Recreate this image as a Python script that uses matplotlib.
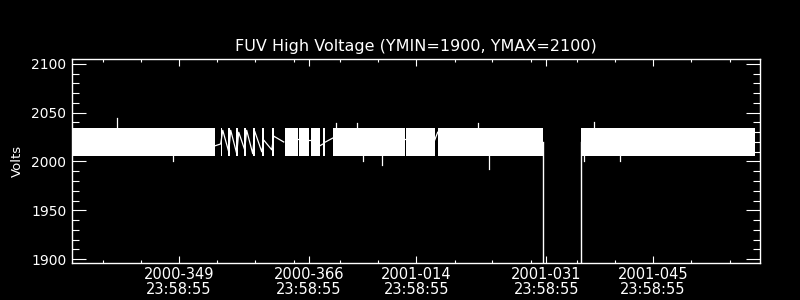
import matplotlib

matplotlib.use("Agg")

import matplotlib.pyplot as plt

# x axis is continuous day of year 2000 (2001-001 -> 367)
title = "FUV High Voltage (YMIN=1900, YMAX=2100)"
major_days = [350.0, 367.0, 381.05, 398.06, 412.0]
major_labels = [
    "2000-349\n23:58:55",
    "2000-366\n23:58:55",
    "2001-014\n23:58:55",
    "2001-031\n23:58:55",
    "2001-045\n23:58:55",
]
minor_days = [340.06, 345.08, 354.97, 359.99, 365.04, 371.02, 376.03,
              386.06, 391.0, 396.1, 402.02, 407.0, 417.02, 422.03]

# dense sampling blocks (start, end) where the signal fills the band
seg_start = [336.05, 355.45, 356.45, 357.50, 358.55, 359.66, 360.84, 362.10,
             363.81, 365.66, 367.23, 368.84, 370.11, 379.66, 383.84, 402.64]
seg_end = [354.67, 355.68, 356.72, 357.76, 358.82, 359.88, 361.06, 362.39,
           365.53, 366.97, 368.40, 369.15, 379.53, 383.45, 397.57, 425.30]
band_low = 2005.5
band_high = 2034.5

# connecting lines across the sparse parts
link_days = [354.67, 355.45, 355.72, 356.50, 356.76, 357.55, 357.81, 358.59,
             358.85, 359.64, 359.90, 360.82, 361.08, 362.13, 362.39, 363.70]
link_volts = [2016, 2018, 2032, 2010, 2032, 2008, 2030, 2012,
              2032, 2008, 2031, 2010, 2022, 2012, 2026, 2020]
gap_days = [[365.53, 365.66], [366.97, 367.23], [368.40, 368.84],
            [369.15, 370.11], [379.53, 379.66], [383.45, 383.84]]
gap_volts = [[2023, 2023], [2022, 2022], [2016, 2018],
             [2020, 2024], [2023, 2023], [2022, 2030]]

# drop-outs to zero volts
drop_days = [397.57, 402.64]
drop_volts = [0, 0]

# isolated spikes outside the band
spike_days = [341.94, 349.18, 370.50, 373.25, 374.03, 376.52, 389.08,
              390.51, 402.94, 404.25, 407.65]
spike_volts = [2044.5, 2000.5, 2039.5, 2039.5, 2000.5, 1996.4, 2039.5,
               1992.3, 2000.5, 2040.5, 2000.5]

fg = "white"
plt.rcParams["font.family"] = ["DejaVu Sans"]

fig = plt.figure(figsize=(8, 3), dpi=100, facecolor="black")
ax = fig.add_axes([0.09, 0.1233, 0.86, 0.68], facecolor="black")

for s, e in zip(seg_start, seg_end):
    ax.fill_between([s, e], band_low, band_high, color=fg, linewidth=0)

ax.plot(link_days, link_volts, color=fg, linewidth=0.9)
for d, v in zip(gap_days, gap_volts):
    ax.plot(d, v, color=fg, linewidth=0.9)
for d, v in zip(drop_days, drop_volts):
    ax.plot([d, d], [2020, v], color=fg, linewidth=1.0)
mid = (band_low + band_high) / 2
for d, v in zip(spike_days, spike_volts):
    ax.plot([d, d], [mid, v], color=fg, linewidth=0.9)

ax.set_xlim(336.0, 426.0)
ax.set_ylim(1895.9, 2105.1)

ax.set_xticks(major_days)
ax.set_xticklabels(major_labels)
ax.set_xticks(minor_days, minor=True)
ax.set_yticks([1900, 1950, 2000, 2050, 2100])
ax.set_yticks(range(1900, 2101, 10), minor=True)

for spine in ax.spines.values():
    spine.set_color(fg)
    spine.set_linewidth(1.0)

ax.tick_params(axis="x", which="major", direction="in", length=5, width=0.8,
               top=True, bottom=True, colors=fg, labelsize=10.5, pad=3)
ax.tick_params(axis="x", which="minor", direction="in", length=2.5, width=0.8,
               top=True, bottom=True, colors=fg)
ax.tick_params(axis="y", which="major", direction="in", length=10, width=0.8,
               left=True, right=True, colors=fg, labelsize=10, pad=4)
ax.tick_params(axis="y", which="minor", direction="in", length=5, width=0.8,
               left=True, right=True, colors=fg)
for lab in ax.get_xticklabels():
    lab.set_linespacing(0.95)

ax.set_title(title, color=fg, fontsize=11.5, pad=6)
ax.set_ylabel("Volts", color=fg, fontsize=9.5, labelpad=5)

fig.savefig("out.png", dpi=100, facecolor="black")
